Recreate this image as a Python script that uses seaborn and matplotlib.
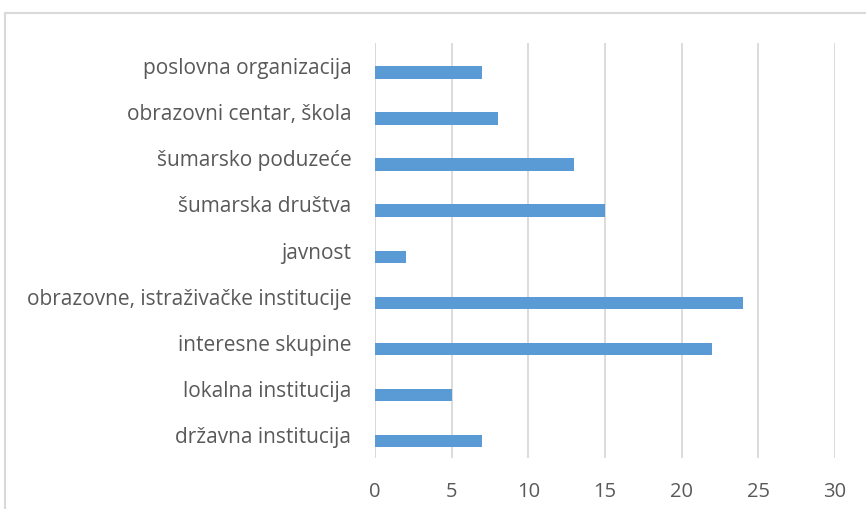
import matplotlib
matplotlib.use("Agg")
import matplotlib.pyplot as plt
import seaborn as sns
import pandas as pd
from matplotlib.patches import Rectangle

# categories top -> bottom, as in the picture
categories = [
    "poslovna organizacija",
    "obrazovni centar, škola",
    "šumarsko poduzeće",
    "šumarska društva",
    "javnost",
    "obrazovne, istraživačke institucije",
    "interesne skupine",
    "lokalna institucija",
    "državna institucija",
]
values = [7, 8, 13, 15, 2, 24, 22, 5, 7]
x_ticks = [0, 5, 10, 15, 20, 25, 30]

bar_color = "#5B9BD5"
grid_color = "#D9D9D9"
text_color = "#595959"

# Excel draws this with an empty second series, so the bar sits below the label
df = pd.DataFrame({
    "kategorija": categories * 2,
    "broj": values + [float("nan")] * len(values),
    "serija": ["broj"] * len(values) + ["prazno"] * len(values),
})

sns.set_style("white")
plt.rcParams["font.family"] = ["Open Sans", "DejaVu Sans"]

fig = plt.figure(figsize=(8.66, 5.09), dpi=100)
ax = fig.add_axes([375 / 866, 1 - 458 / 509, (835 - 375) / 866, (458 - 43) / 509])

sns.barplot(data=df, y="kategorija", x="broj", hue="serija",
            hue_order=["prazno", "broj"], order=categories, orient="h",
            palette={"prazno": bar_color, "broj": bar_color}, saturation=1,
            width=0.54, dodge=True, legend=False, linewidth=0, ax=ax)

ax.set_xlim(0, 30)
ax.set_ylim(len(categories) - 0.5, -0.5)
ax.set_xticks(x_ticks)
ax.xaxis.grid(True, color=grid_color, linewidth=1.3)
ax.set_axisbelow(True)
for s in ax.spines.values():
    s.set_visible(False)
ax.axvline(0, color=grid_color, linewidth=1.3, zorder=0)
ax.set_xlabel("")
ax.set_ylabel("")
ax.tick_params(axis="y", length=0, pad=17, labelsize=15, labelcolor=text_color)
ax.tick_params(axis="x", length=0, pad=17, labelsize=14.5, labelcolor=text_color)

# chart border (partly outside the image)
fig.patches.append(Rectangle((5 / 866, -0.2), 1.2, 0.2 + 1 - 13 / 509,
                             transform=fig.transFigure, fill=False,
                             edgecolor=grid_color, linewidth=1.5))

fig.savefig("out.png", dpi=100)
